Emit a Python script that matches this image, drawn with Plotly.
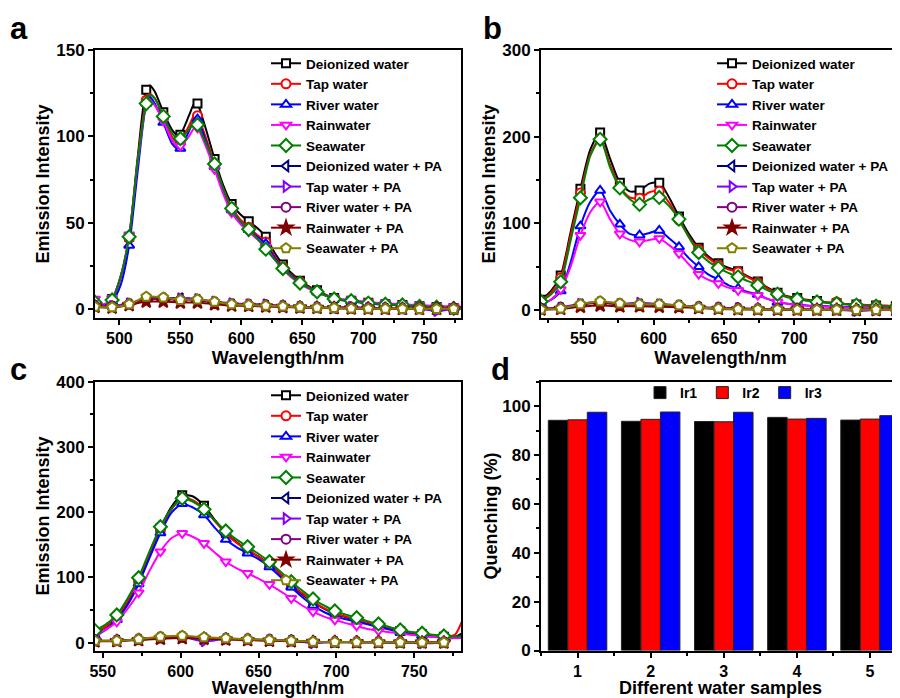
import plotly.graph_objects as go

FONT = "Liberation Sans, Arial, sans-serif"

# ---------------- names / styles ----------------
main_names = ["Deionized water", "Tap water", "River water", "Rainwater", "Seawater"]
pa_names = ["Deionized water + PA", "Tap water + PA", "River water + PA",
            "Rainwater + PA", "Seawater + PA"]
main_colors = ["#000000", "#FF0000", "#0000FF", "#FF00FF", "#008000"]
main_symbols = ["square", "circle", "triangle-up", "triangle-down", "diamond"]
pa_colors = ["#000080", "#8000FF", "#800080", "#800000", "#808000"]
pa_symbols = ["triangle-left", "triangle-right", "circle", "star", "pentagon"]

# ---------------- panel a ----------------
wl_a = [480, 487, 494, 501, 508, 515, 522, 525, 529, 536, 543, 548, 550, 557, 562, 564,
        571, 578, 585, 592, 599, 606, 613, 620, 627, 634, 641, 648, 655, 662, 669, 676,
        683, 690, 697, 704, 711, 718, 725, 732, 739, 746, 753, 760, 767, 774, 781]
a_deionized = [4, 2, 6, 19, 42, 88, 127, 129.5, 126, 114, 104, 100.5, 101, 112, 120, 119,
               104, 87, 72, 61, 55, 51, 47, 42, 33, 26, 21, 16.5, 13.5, 11, 8.5, 6.5,
               5.5, 5, 4.3, 3.8, 3.3, 3, 2.7, 2.5, 2.2, 1.8, 1.6, 1.3, 1, 0.8, 0.6]
a_tap = [4, 2, 5.5, 18, 41, 86, 121, 124.5, 122, 112, 100, 96, 97, 106, 113, 112,
         99, 84, 70, 59, 52, 47.5, 43, 39, 31, 24.5, 20, 16, 13, 10.5, 8.2, 6.3,
         5.4, 5, 4.2, 3.7, 3.3, 3, 2.7, 2.4, 2.1, 1.8, 1.5, 1.2, 1, 0.8, 0.6]
a_river = [5, 2.5, 4.5, 14, 37, 80, 119, 123, 119, 108, 96, 92.5, 93, 103, 110.5, 110,
           97, 82.5, 69, 57.5, 50.5, 46, 42, 38, 30, 24, 19.5, 15.5, 12.5, 10, 8, 6.2,
           5.2, 4.5, 4, 3.5, 3, 2.8, 2.5, 2.3, 2, 1.7, 1.5, 0.5, 0.8, 0.6, 0.5]
a_rain = [6, 3, 6.5, 19, 43, 85, 118, 121, 118, 109, 98, 94, 94.5, 100, 105.5, 105,
          94, 81, 67, 56, 49.5, 45, 40.5, 36, 29, 23, 18.5, 14.5, 12, 10, 8, 6.5,
          5.8, 5.5, 4.8, 4.2, 3.8, 3.5, 3.2, 2.9, 2.6, 2.4, 2.2, 2, 1.8, 1.6, 1.5]
a_sea = [4, 2, 5.4, 19, 42, 86, 119, 124, 122, 111.6, 102, 98.5, 98.7, 104, 108.7, 106.8,
         96, 84.1, 70, 58.4, 51, 46.3, 41, 34.8, 29, 23.6, 19, 15.2, 12.5, 10.2, 8, 6,
         5.3, 5, 4.2, 3.6, 3.2, 3, 2.7, 2.5, 2.1, 1.7, 1.5, 1.2, 0.9, 0.6, 0.5]
wl_a_pa = [480, 494, 508, 522, 536, 550, 564, 578, 592, 606, 620, 634, 648, 662, 676,
           690, 704, 718, 732, 746, 760, 774]
a_deionized_pa = [2, 1.5, 3, 6.5, 6.5, 6.5, 5.5, 4, 3, 2.5, 2.2, 1.8, 1.3, 1, 0.8, 0.6, 0.5, 0.4, 0.3, 0.3, 0.3, 0.3]
a_tap_pa = [3, 2, 3.5, 6, 6, 6.5, 6, 4.5, 3.5, 3, 3, 2, 1.5, 1.2, 1, 1.5, 0.8, 0.6, 0.5, 0.4, -1, 0.3]
a_river_pa = [2, 1.5, 3, 6, 6, 5.5, 5.5, 4, 3, 2.5, 2, 1.6, 1.2, 1, 0.8, 0.6, 0.5, 0.4, 0.3, 0.3, 0.3, 0.3]
a_rain_pa = [1.5, 1.0, 2.5, 4.5, 4.5, 4, 4, 3, 2.2, 2, 1.7, 1.4, 1.1, 0.9, 0.7, 0.5, 0.4, 0.3, 0.3, 0.3, 0.3, 0.3]
a_sea_pa = [1.5, 1.2, 3, 7.3, 6.9, 5.4, 5.8, 4.4, 3, 2.5, 2.1, 1.7, 1.3, 1.0, 0.8, 0.5, 0.4, 0.4, 0.3, 0.3, 0.3, 0.3]

# ---------------- panel b ----------------
wl_b = [520, 527, 534, 541, 548, 555, 562, 569, 576, 583, 590, 597, 604, 611, 618, 625,
        632, 639, 646, 653, 660, 667, 674, 681, 688, 695, 702, 709, 716, 723, 730, 737,
        744, 751, 758, 765, 772, 779]
b_deionized = [12, 22, 40, 90, 140, 185, 205, 175, 147, 137, 138, 146, 147, 130, 108, 88,
               72, 62, 54, 49, 45, 39, 33, 26, 20, 16, 14, 12, 10.5, 9, 8, 7,
               6.5, 6, 5.5, 5, 4.5, 4]
b_tap = [11, 20, 37, 86, 135, 180, 198, 168, 142, 130, 129, 136, 137, 124, 104, 85,
         70, 60, 52, 47, 44, 38, 32, 25, 19.5, 15.5, 13, 11.5, 10, 9, 9.5, 7,
         6.5, 6, 5.5, 5, 4.5, 4]
b_river = [8, 12, 22, 55, 97, 125, 138, 115, 99, 88, 86.5, 89, 92, 83, 73, 60,
           50, 41, 35.4, 29, 25, 21, 18, 13, 9, 7.5, 6.5, 5.5, 5, 4.5, 4, 3.8,
           3.5, 3.2, 3, 2.8, 2.5, 2.3]
b_rain = [6, 12, 24, 50, 86.5, 113, 125, 105, 88, 81, 78.8, 81, 82.7, 75, 65.4, 53,
          41.5, 35, 30.8, 26, 23, 20, 17.3, 13, 9.6, 7.5, 6, 5, 4.5, 4, 3.5, 3.2,
          3, 2.8, 2.6, 2.4, 2.2, 2]
b_sea = [10, 18, 32.7, 80, 129.6, 178, 197, 165, 141, 128, 122, 128, 130, 120, 105, 84,
         66.5, 56, 48.8, 43, 38.5, 33.5, 28.8, 23, 18.5, 15, 12.7, 11, 9.6, 8.5, 7.7, 6.7,
         5.8, 5.2, 4.6, 4.2, 3.8, 3.5]
wl_b_pa = [520, 534, 548, 562, 576, 590, 604, 618, 632, 646, 660, 674, 688, 702, 716,
           730, 744, 758, 772]
b_deionized_pa = [1.5, 2.5, 7, 9, 7, 7, 6.5, 5.5, 3.5, 2.5, 1.5, 1.2, 1, 0.8, 0.6, 0.5, 0.5, 0.4, 0.4]
b_tap_pa = [1.5, 3, 7.5, 9.5, 7.5, 8.5, 7, 5.5, 3.5, 2.5, 2.5, 1.2, 1, 0.8, 0.6, 0.5, -1, 0.4, 0.4]
b_river_pa = [1.2, 2.5, 6.5, 8.5, 6.5, 6.5, 6, 5, 3, 2, 1.5, 1, 0.8, 0.6, 0.5, 0.5, 0.4, 0.4, 0.4]
b_rain_pa = [0.8, 1.5, 4, 5.5, 4.5, 4.5, 4, 3.5, 2.5, 1.5, 1, 0.8, 0.6, 0.5, 0.4, 0.4, 0.3, 0.3, 0.3]
b_sea_pa = [0.8, 1.9, 6.9, 10.4, 7.7, 6.9, 6.9, 5.8, 3.1, 1.9, 1.2, 1, 0.8, 0.6, 0.5, 0.5, 0.4, 0.4, 0.4]

# ---------------- panel c ----------------
wl_c = [545, 552, 559, 566, 573, 580, 587, 594, 601, 608, 615, 622, 629, 636, 643, 650,
        657, 664, 671, 678, 685, 692, 699, 706, 713, 720, 727, 734, 741, 748, 755, 762,
        769, 776, 781]
c_deionized = [14, 24, 38, 62, 94, 135, 175, 208, 226, 224, 210, 188, 168, 154, 142, 132,
               120, 105, 88, 74, 62, 52, 44, 39, 34, 30, 26, 22, 18, 15, 13, 11, 9, 9, 15]
c_tap = [15, 25, 40, 64, 95, 136, 174, 204, 222, 218, 205, 186, 167, 153, 142, 132,
         120, 105, 89, 76, 63, 53, 45, 40, 35, 31, 27, 23, 19, 16, 13.5, 11.5, 9.5, 12, 35]
c_river = [10, 20, 35, 58, 90, 130, 168, 199, 213, 207, 195.7, 176, 158, 146, 137, 128,
           116, 101, 85, 70, 57, 47, 40, 36, 32, 28, 24, 20, 16, 13, 11, 9, 7.5, 7, 12]
c_rain = [12, 20, 32, 52, 76.6, 110, 139.5, 160, 167.6, 162, 152.3, 138, 124.1, 114, 106.3, 98,
          89.5, 79, 68, 57, 47.5, 40, 34.8, 30, 25.6, 21, 18.4, 16, 14.4, 12, 10, 9, 8, 7, 7]
c_sea = [18.4, 28, 42.5, 68, 99.6, 140, 177.8, 205, 221.3, 216, 204.4, 187, 171.2, 158, 147.1, 136,
         124.1, 109, 93.5, 80, 67, 57, 48.5, 43, 38.3, 33, 28.7, 24, 19.5, 16.5, 14.4, 12, 10.3, 9.5, 10]
wl_c_pa = [545, 559, 573, 587, 601, 615, 629, 643, 657, 671, 685, 699, 713, 727, 741, 755, 769]
c_deionized_pa = [3, 3.5, 5, 8, 9, 7, 6, 5, 4, 3, 1.5, 1, 0.8, 0.6, 0.5, 0.4, 0.4]
c_tap_pa = [2.5, 3, 5, 8, 9, 2, 6, 5, 4, 3, -1, 1, 0.8, 0.6, 0.5, -1, 0.4]
c_river_pa = [2.5, 3, 4.5, 7, 8, 6.5, 5.5, 4.5, 3.5, 2.5, 1.2, 0.8, 0.6, 0.5, 0.4, 0.4, 0.4]
c_rain_pa = [2, 2.5, 4, 6, 7, 6, 5, 4, 3, 2, 1, 0.8, 0.6, 0.5, 0.4, 0.3, 0.3]
c_sea_pa = [3, 3, 5.2, 9.2, 10.7, 8.3, 6.7, 5.2, 4.2, 3, 1.5, 1, 0.8, 0.6, 0.5, 0.4, 0.4]

# ---------------- panel d ----------------
samples = [1, 2, 3, 4, 5]
sample_ticks = ["1", "2", "3", "4", "5"]
quench_ir1 = [94.2, 93.8, 93.7, 95.4, 94.3]
quench_ir2 = [94.4, 94.6, 93.6, 94.7, 94.7]
quench_ir3 = [97.5, 97.6, 97.5, 95.0, 96.1]
ir_names = ["Ir1", "Ir2", "Ir3"]
ir_colors = ["#000000", "#FF0000", "#0000FF"]

# The page body adds an 8 px margin, so the figure is 892x690 and the
# helpers convert screen pixel positions into paper fractions.
OFF = 8
W, H = 900 - OFF, 698 - OFF


def px_x(p):
    return (p - OFF) / W


def px_y(p):
    return 1 - (p - OFF) / H


fig = go.Figure()

SYMBOL_SIZE = {"square": 8, "circle": 9, "triangle-up": 9, "triangle-down": 9,
               "diamond": 10, "triangle-left": 9, "triangle-right": 9,
               "star": 10, "pentagon": 10}


def marker_style(color, symbol):
    fill = color if symbol == "star" else "white"
    return dict(symbol=symbol, size=SYMBOL_SIZE[symbol], color=fill,
                line=dict(color=color, width=2))


def add_spectra(xa, ya, legend, wl, mains, wl_pa, pas):
    step = 14
    for name, vals, color, sym in zip(main_names, mains, main_colors, main_symbols):
        fig.add_trace(go.Scatter(
            x=wl, y=vals, mode="lines", xaxis=xa, yaxis=ya, showlegend=False,
            line=dict(color=color, width=2, shape="spline", smoothing=0.7),
            hoverinfo="skip"))
        mx = [w for w in wl if (w - wl[0]) % step == 0]
        my = [v for w, v in zip(wl, vals) if (w - wl[0]) % step == 0]
        fig.add_trace(go.Scatter(
            x=mx, y=my, mode="markers", xaxis=xa, yaxis=ya, showlegend=False,
            marker=marker_style(color, sym), name=name))
        fig.add_trace(go.Scatter(
            x=[None], y=[None], mode="lines+markers", xaxis=xa, yaxis=ya,
            name=name, legend=legend,
            line=dict(color=color, width=2), marker=marker_style(color, sym)))
    for name, vals, color, sym in zip(pa_names, pas, pa_colors, pa_symbols):
        fig.add_trace(go.Scatter(
            x=wl_pa, y=vals, mode="lines+markers", xaxis=xa, yaxis=ya,
            name=name, legend=legend,
            line=dict(color=color, width=2, shape="spline", smoothing=0.7),
            marker=marker_style(color, sym)))


add_spectra("x", "y", "legend", wl_a,
            [a_deionized, a_tap, a_river, a_rain, a_sea], wl_a_pa,
            [a_deionized_pa, a_tap_pa, a_river_pa, a_rain_pa, a_sea_pa])
add_spectra("x2", "y2", "legend2", wl_b,
            [b_deionized, b_tap, b_river, b_rain, b_sea], wl_b_pa,
            [b_deionized_pa, b_tap_pa, b_river_pa, b_rain_pa, b_sea_pa])
add_spectra("x3", "y3", "legend3", wl_c,
            [c_deionized, c_tap, c_river, c_rain, c_sea], wl_c_pa,
            [c_deionized_pa, c_tap_pa, c_river_pa, c_rain_pa, c_sea_pa])

for name, vals, color in zip(ir_names, [quench_ir1, quench_ir2, quench_ir3], ir_colors):
    fig.add_trace(go.Bar(x=samples, y=vals, name=name, xaxis="x4", yaxis="y4",
                         legend="legend4", marker=dict(color=color,
                                                       line=dict(color="#222222", width=1))))

ytickfont = dict(family=FONT, size=17, color="black", weight="bold")
xtickfont = dict(family=FONT, size=16, color="black", weight="bold")
titlefont = dict(family=FONT, size=18, color="black", weight="bold")


def axis(domain, anchor, rng, dtick, minor_dtick, title, letter, mirror=True, tick0=None,
         tickvals=None, ticktext=None, standoff=None):
    if standoff is None:
        standoff = 5 if letter == "x" else 2
    d = dict(domain=domain, anchor=anchor, range=rng, showline=True, linewidth=2,
             linecolor="black", mirror=mirror, ticks="outside", ticklen=5, tickwidth=2,
             tickcolor="black", showgrid=False, zeroline=False,
             tickfont=xtickfont if letter == "x" else ytickfont,
             automargin=False,
             title=dict(text=title, font=titlefont, standoff=standoff),
             minor=dict(ticks="outside", ticklen=3, tickwidth=1.5, tickcolor="black",
                        dtick=minor_dtick, showgrid=False))
    if tickvals is not None:
        d["tickmode"] = "array"
        d["tickvals"] = tickvals
        d["ticktext"] = ticktext
    else:
        d["dtick"] = dtick
    if tick0 is not None:
        d["minor"]["tick0"] = tick0
    return d


xa_dom = [px_x(95), px_x(461)]
xb_dom = [px_x(541), 1.0]
ytop_dom = [px_y(318), px_y(50)]
ybot_dom = [px_y(650.5), px_y(381.7)]

fig.update_layout(
    width=W, height=H, margin=dict(l=0, r=0, t=0, b=0, autoexpand=False),
    paper_bgcolor="white", plot_bgcolor="white",
    barmode="group", bargap=0.2, bargroupgap=0,
    xaxis=axis(xa_dom, "y", [480, 780], 50, 25, "Wavelength/nm", "x"),
    yaxis=axis(ytop_dom, "x", [-5, 150], 50, 25, "Emission Intensity", "y"),
    xaxis2=axis(xb_dom, "y2", [520, 775], 50, 25, "Wavelength/nm", "x"),
    yaxis2=axis(ytop_dom, "x2", [-9, 300], 100, 50, "Emission Intensity", "y", mirror=False),
    xaxis3=axis(xa_dom, "y3", [545, 780], 50, 25, "Wavelength/nm", "x"),
    yaxis3=axis(ybot_dom, "x3", [-12, 400], 100, 50, "Emission Intensity", "y"),
    xaxis4=axis(xb_dom, "y4", [0.5, 5.41], 1, 1, "Different water samples", "x",
                tick0=0.5, tickvals=samples, ticktext=sample_ticks),
    yaxis4=axis(ybot_dom, "x4", [0, 110], 20, 10, "Quenching (%)", "y", mirror=False,
                standoff=0),
)

legend_common = dict(bgcolor="rgba(0,0,0,0)", borderwidth=0, tracegroupgap=0,
                     itemsizing="trace", xanchor="left", yanchor="top")
lfont = dict(family=FONT, size=13.5, color="black", weight="bold")
dfont = dict(family=FONT, size=14, color="black", weight="bold")
fig.update_layout(
    legend=dict(x=px_x(266), y=px_y(48), font=lfont, **legend_common),
    legend2=dict(x=px_x(712), y=px_y(48), font=lfont, **legend_common),
    legend3=dict(x=px_x(266), y=px_y(380), font=lfont, **legend_common),
    legend4=dict(x=px_x(640), y=px_y(377), orientation="h", font=dfont, **legend_common),
)

for letter, x, y in [("a", 8, 28), ("b", 481, 28), ("c", 8, 369), ("d", 489, 369)]:
    fig.add_annotation(text=letter, x=px_x(x), y=px_y(y), xref="paper", yref="paper",
                       xanchor="left", yanchor="middle", showarrow=False,
                       font=dict(family=FONT, size=31, color="black", weight="bold"))

fig.write_html("out.html")
